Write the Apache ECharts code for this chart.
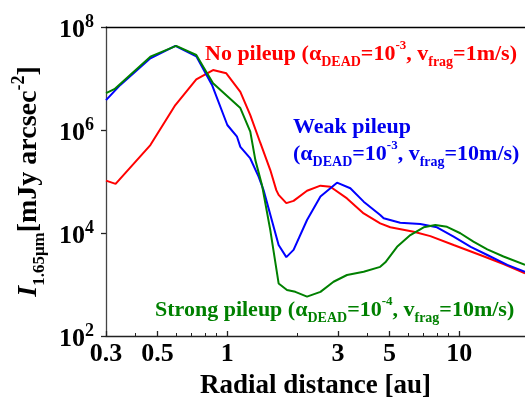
<!DOCTYPE html>
<html>
<head>
<meta charset="utf-8">
<script src="https://cdn.jsdelivr.net/npm/echarts@6/dist/echarts.min.js"></script>
<style>html,body{margin:0;padding:0;background:#fff;}#c{width:525px;height:401px;}</style>
</head>
<body>
<div id="c"></div>
<script>
// ---- data ----
const xTicks = [0.3, 0.5, 1, 3, 5, 10];
const xMinorTicks = [0.4, 0.6, 0.7, 0.8, 0.9, 2, 4, 6, 7, 8, 9];
const yTicks = [1e2, 1e4, 1e6, 1e8];

const noPileupR = [0.3, 0.33, 0.466, 0.597, 0.735, 0.868, 0.99, 1.138, 1.256, 1.388, 1.532, 1.626, 1.664, 1.796, 1.93, 2.206, 2.52, 2.78, 3.28, 3.87, 4.56, 5.04, 6.36, 7.5, 9.45, 12.3, 15.5, 19.2];
const noPileupI = [1.04e5, 9.0e4, 5.1e5, 3.05e6, 9.6e6, 1.46e7, 1.26e7, 5.5e6, 1.95e6, 5.6e5, 1.67e5, 6.8e4, 5.5e4, 3.8e4, 4.2e4, 6.6e4, 8.3e4, 7.9e4, 4.7e4, 2.4e4, 1.54e4, 1.29e4, 1.06e4, 8.7e3, 5.85e3, 3.74e3, 2.5e3, 1.65e3];

const weakR = [0.3, 0.346, 0.466, 0.597, 0.735, 0.859, 1.0, 1.101, 1.138, 1.256, 1.364, 1.433, 1.664, 1.796, 1.93, 2.206, 2.52, 2.97, 3.39, 3.87, 4.56, 4.72, 5.56, 6.79, 8.01, 9.45, 11.2, 13.2, 16.1, 19.2];
const weakI = [3.8e6, 7.5e6, 2.47e7, 4.3e7, 2.7e7, 7.5e6, 1.25e6, 7.4e5, 4.7e5, 2.8e5, 1.24e5, 6.8e4, 5.85e3, 3.4e3, 4.7e3, 1.79e4, 5.1e4, 9.5e4, 7.4e4, 4.06e4, 2.24e4, 1.93e4, 1.58e4, 1.5e4, 1.29e4, 8.5e3, 5.4e3, 3.74e3, 2.4e3, 1.77e3];

const strongR = [0.3, 0.326, 0.466, 0.602, 0.735, 0.868, 1.138, 1.256, 1.321, 1.411, 1.532, 1.664, 1.808, 1.964, 2.206, 2.52, 2.87, 3.28, 3.87, 4.56, 4.8, 5.39, 6.15, 7.02, 7.88, 8.85, 10.1, 11.5, 13.2, 15.5, 19.2];
const strongI = [5.2e6, 6.2e6, 2.65e7, 4.3e7, 2.86e7, 8.1e6, 2.67e6, 9.3e5, 2.6e5, 8.5e4, 1.14e4, 1.05e3, 7.8e2, 7.2e2, 5.8e2, 7.2e2, 1.13e3, 1.53e3, 1.77e3, 2.2e3, 2.7e3, 5.4e3, 9.1e3, 1.29e4, 1.43e4, 1.32e4, 9.9e3, 6.8e3, 4.8e3, 3.5e3, 2.4e3];

// ---- chart ----
const FONT = '"Liberation Serif", "Times New Roman", serif';
const pair = (xs, ys) => xs.map((x, i) => [x, ys[i]]);

function richFor(color) {
  return {
    m: {fontFamily: FONT, fontWeight: 'bold', fontSize: 22, lineHeight: 30, verticalAlign: 'middle', color: color},
    sub: {fontFamily: FONT, fontWeight: 'bold', fontSize: 14, lineHeight: 13, verticalAlign: 'bottom', color: color},
    sup: {fontFamily: FONT, fontWeight: 'bold', fontSize: 13, lineHeight: 22, verticalAlign: 'top', color: color}
  };
}
function annot(x, y, text, color) {
  return {
    type: 'text', x: x, y: y, z: 100,
    style: {text: text, rich: richFor(color), fill: color, align: 'left', verticalAlign: 'top'}
  };
}

const chart = echarts.init(document.getElementById('c'), null, {renderer: 'canvas'});
const fmtX = v => String(Number(v.toPrecision(3)));
const lineSeries = (name, xs, ys, color) => ({
  name: name, type: 'line', xAxisIndex: 0, data: pair(xs, ys),
  showSymbol: false, symbol: 'none',
  lineStyle: {color: color, width: 2}, itemStyle: {color: color}, clip: true
});

chart.setOption({
  animation: false,
  backgroundColor: '#fff',
  grid: {left: 106, right: 0, top: 27, bottom: 65, containLabel: false, outerBoundsMode: 'none'},
  xAxis: [
    {
      type: 'log', logBase: 10, min: 0.3, max: 19.19, position: 'bottom',
      splitLine: {show: false},
      axisLine: {show: true, lineStyle: {color: '#222', width: 1.3}},
      axisTick: {show: true, inside: true, length: 5, customValues: xTicks, lineStyle: {color: '#222', width: 1.3}},
      axisLabel: {customValues: xTicks, formatter: fmtX, margin: 5, color: '#000', fontFamily: FONT, fontWeight: 'bold', fontSize: 26},
      name: 'Radial distance [au]', nameLocation: 'middle', nameGap: 37,
      nameTextStyle: {fontFamily: FONT, fontWeight: 'bold', fontSize: 27, color: '#000'}
    },
    {
      type: 'log', logBase: 10, min: 0.3, max: 19.19, position: 'bottom',
      splitLine: {show: false},
      axisLine: {show: false},
      axisTick: {show: true, inside: true, length: 3, customValues: xMinorTicks, lineStyle: {color: '#222', width: 1}},
      axisLabel: {show: false}
    },
    {
      type: 'log', logBase: 10, min: 0.3, max: 19.19, position: 'top',
      splitLine: {show: false},
      axisLine: {show: true, lineStyle: {color: '#000', width: 1.3}},
      axisTick: {show: false},
      axisLabel: {show: false}
    }
  ],
  yAxis: {
    type: 'log', logBase: 10, min: 100, max: 1e8,
    splitLine: {show: false},
    axisLine: {show: true, lineStyle: {color: '#444', width: 1.3}},
    axisTick: {show: true, inside: false, length: 5, customValues: yTicks, lineStyle: {color: '#222', width: 1.3}},
    axisLabel: {
      customValues: yTicks, margin: 12,
      formatter: v => '{b|10}{s|' + Math.round(Math.log10(v)) + '}',
      padding: [6, 0, 0, 0],
      rich: {
        b: {fontFamily: FONT, fontWeight: 'bold', fontSize: 26, lineHeight: 34, verticalAlign: 'middle', color: '#000'},
        s: {fontFamily: FONT, fontWeight: 'bold', fontSize: 18, lineHeight: 10, verticalAlign: 'top', color: '#000'}
      }
    },
    name: '{i|I}{sb|1.65μm}{m|[mJy arcsec}{sp|-2}{m|]}',
    nameLocation: 'middle', nameGap: 56, nameRotate: 90,
    nameTextStyle: {
      rich: {
        i: {fontFamily: FONT, fontWeight: 'bold', fontStyle: 'italic', fontSize: 28, lineHeight: 38, verticalAlign: 'middle', color: '#000'},
        m: {fontFamily: FONT, fontWeight: 'bold', fontSize: 28, lineHeight: 38, verticalAlign: 'middle', color: '#000'},
        sb: {fontFamily: FONT, fontWeight: 'bold', fontSize: 17, lineHeight: 16, verticalAlign: 'bottom', color: '#000'},
        sp: {fontFamily: FONT, fontWeight: 'bold', fontSize: 18, lineHeight: 22, verticalAlign: 'top', color: '#000'}
      }
    }
  },
  series: [
    lineSeries('No pileup', noPileupR, noPileupI, '#ff0000'),
    lineSeries('Weak pileup', weakR, weakI, '#0000ff'),
    lineSeries('Strong pileup', strongR, strongI, '#008000')
  ],
  graphic: [
    annot(205, 39, '{m|No pileup (α}{sub|DEAD}{m|=10}{sup|-3}{m|, v}{sub|frag}{m|=1m/s)}', '#ff0000'),
    annot(293, 112, '{m|Weak pileup}', '#0000ee'),
    annot(293, 139, '{m|(α}{sub|DEAD}{m|=10}{sup|-3}{m|, v}{sub|frag}{m|=10m/s)}', '#0000ee'),
    annot(155, 295, '{m|Strong pileup (α}{sub|DEAD}{m|=10}{sup|-4}{m|, v}{sub|frag}{m|=10m/s)}', '#008000')
  ]
});
</script>
</body>
</html>
